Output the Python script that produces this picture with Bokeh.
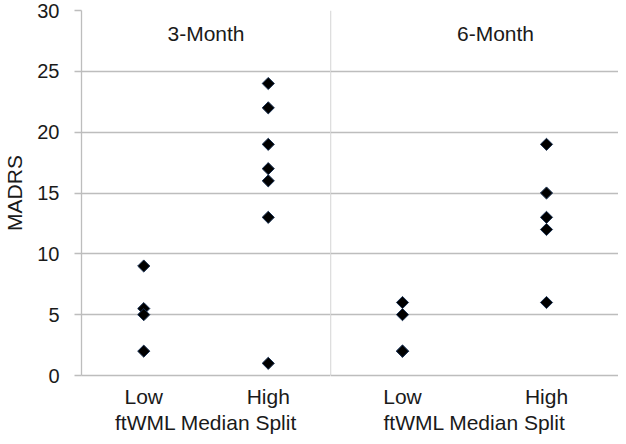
import numpy as np
from bokeh.plotting import figure
from bokeh.layouts import row
from bokeh.models import FixedTicker, Range1d, ColumnDataSource, Label, Span
from bokeh.embed import file_html
from bokeh.resources import INLINE

# ---- data ----
categories = ["Low", "High"]
cat_pos = [0.25, 0.75]
panels = ["3-Month", "6-Month"]
three_low = [9, 5.5, 5, 2]
three_high = [24, 22, 19, 17, 16, 13, 1]
six_low = [6, 5, 2, 2]
six_high = [19, 15, 13, 12, 6]
y_ticks = [0, 5, 10, 15, 20, 25, 30]
x_title = "ftWML Median Split"
y_title = "MADRS"

FONT = "Liberation Sans"
GRID = "#bdbdbd"
TXT = "#1a1a1a"


def make_panel(title, low, high, width, left_border, show_y, title_x):
    p = figure(width=width, height=436, output_backend="svg", toolbar_location=None,
               x_range=Range1d(0, 1), y_range=Range1d(0, 30),
               y_axis_location="left" if show_y else None,
               min_border_left=left_border, min_border_right=0,
               min_border_top=10, min_border_bottom=0)
    p.outline_line_color = None
    p.xgrid.grid_line_color = None
    p.ygrid.ticker = FixedTicker(ticks=y_ticks)
    p.ygrid.grid_line_color = GRID
    p.ygrid.grid_line_width = 1.3
    p.xaxis.ticker = FixedTicker(ticks=cat_pos)
    p.xaxis.major_label_overrides = {cat_pos[i]: categories[i] for i in range(2)}
    p.xaxis.axis_label = x_title
    axes = [p.xaxis[0]] + ([p.yaxis[0]] if show_y else [])
    for ax in axes:
        ax.axis_line_color = GRID
        ax.axis_line_width = 1.3
        ax.major_tick_line_color = GRID
        ax.major_tick_line_width = 1.3
        ax.minor_tick_line_color = None
        ax.major_tick_in = 0
        ax.major_label_text_font = FONT
        ax.major_label_text_font_size = "21px"
        ax.major_label_text_color = TXT
        ax.axis_label_text_font = FONT
        ax.axis_label_text_font_size = "21px"
        ax.axis_label_text_font_style = "normal"
        ax.axis_label_text_color = TXT
    p.xaxis.major_tick_out = 0
    p.xaxis.major_label_standoff = 9
    p.xaxis.axis_label_standoff = 0
    if show_y:
        p.yaxis.ticker = FixedTicker(ticks=y_ticks)
        p.yaxis.major_tick_out = 7
        p.yaxis.major_label_text_font_size = "20px"
        p.yaxis.major_label_standoff = 15
        p.yaxis.axis_label = y_title
        p.yaxis.axis_label_standoff = 8
    else:
        p.add_layout(Span(location=0, dimension="height", line_color=GRID,
                          line_width=1.3))

    xs = [cat_pos[0]] * len(low) + [cat_pos[1]] * len(high)
    ys = list(low) + list(high)
    src = ColumnDataSource(dict(x=xs, y=ys))
    p.scatter("x", "y", source=src, marker="square", angle=np.pi / 4, size=8.6,
              fill_color="black", line_color="#1c3354", line_width=1)
    p.add_layout(Label(x=title_x, y=28.1, text=title, text_font=FONT,
                       text_font_size="21px", text_align="center",
                       text_baseline="middle", text_color=TXT))
    return p


p1 = make_panel(panels[0], three_low, three_high, 78 + 252, 78, True, 0.5)
p2 = make_panel(panels[1], six_low, six_high, 286 + 2, 0, False, 0.573)
layout = row(p1, p2, spacing=0)

open("out.html", "w").write(file_html(layout, INLINE))
